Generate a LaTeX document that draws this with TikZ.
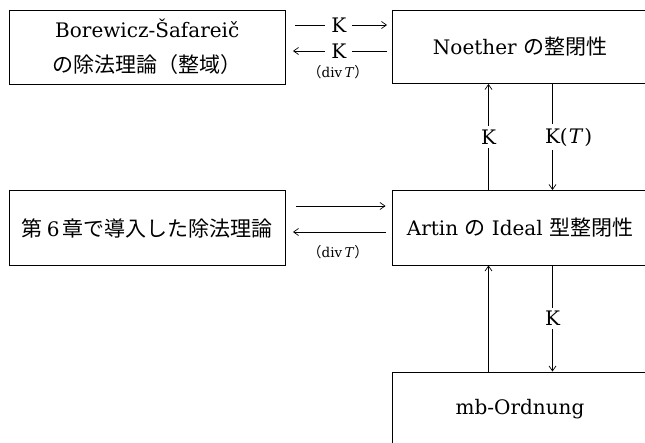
\documentclass[tikz,border=0pt]{standalone}
\usepackage{fontspec}
\setmainfont{DejaVu Serif}
\newfontfamily\cjk{Noto Sans CJK JP}[Scale=1.05]
\usetikzlibrary{arrows.meta}
\begin{document}
\begin{tikzpicture}[x=1pt,y=-1pt,
  box/.style={draw, line width=0.9pt, inner sep=0pt, align=center,
    font=\fontsize{20}{35}\selectfont},
  arr/.style={line width=0.7pt, -{Straight Barb[length=5pt,width=7pt]}},
  labh/.style={fill=white, inner xsep=6pt, inner ysep=1pt, font=\fontsize{20}{24}\selectfont},
  labv/.style={fill=white, inner xsep=1pt, inner ysep=3.5pt, font=\fontsize{20}{24}\selectfont},
  small/.style={inner sep=0pt, font=\fontsize{13.5}{16}\selectfont}]
\useasboundingbox (0,0) rectangle (645,443);

\node[box, minimum width=276.5pt, minimum height=74pt] (b1) at (147.25,47)
  {Borewicz-Šafareič\\{\cjk の除法理論（整域）}};
\node[box, minimum width=256pt, minimum height=73.5pt] (noe) at (520,46.75)
  {Noether {\cjk の整閉性}};
\node[box, minimum width=276.5pt, minimum height=75pt] (b6) at (147.25,228)
  {{\cjk 第}\hspace{4pt}6\hspace{3pt}{\cjk 章で導入した除法理論}};
\node[box, minimum width=256pt, minimum height=74.5pt] (art) at (520,227.75)
  {Artin {\cjk の} Ideal {\cjk 型整閉性}};
\node[box, minimum width=256pt, minimum height=75pt] (mb) at (520,409.5)
  {mb-Ordnung};

% top horizontal pair
\draw[arr, shorten <=9.5pt, shorten >=4.5pt] (b1.east |- 0,25) -- node[labh] (k1) {K} (noe.west |- 0,25);
\draw[arr, shorten <=4.5pt, shorten >=7pt] (noe.west |- 0,51) -- node[labh] (k2) {K} (b1.east |- 0,51);
\node[small] (d1) at (338,72) {{\cjk （}div\,\textit{T}{\cjk ）}};

% middle horizontal pair
\draw[arr, shorten <=10.5pt, shorten >=6pt] (b6.east |- 0,206) -- (art.west |- 0,206);
\draw[arr, shorten <=6pt, shorten >=7pt] (art.west |- 0,232) -- (b6.east |- 0,232);
\node[small] (d2) at (338,252) {{\cjk （}div\,\textit{T}{\cjk ）}};

% verticals Noether -- Artin
\draw[arr] (art.north -| 488.5,0) -- node[labv] (k3) {K} (noe.south -| 488.5,0);
\draw[arr] (noe.south -| 552.5,0) -- node[labv] (k4) {K\rlap{(\kern1pt\textit{T}\kern1pt)}} (art.north -| 552.5,0);

% verticals Artin -- mb
\draw[arr] (mb.north -| 488.5,0) -- (art.south -| 488.5,0);
\draw[arr] (art.south -| 552.5,0) -- node[labv] (k5) {K} (mb.north -| 552.5,0);
\end{tikzpicture}
\end{document}
